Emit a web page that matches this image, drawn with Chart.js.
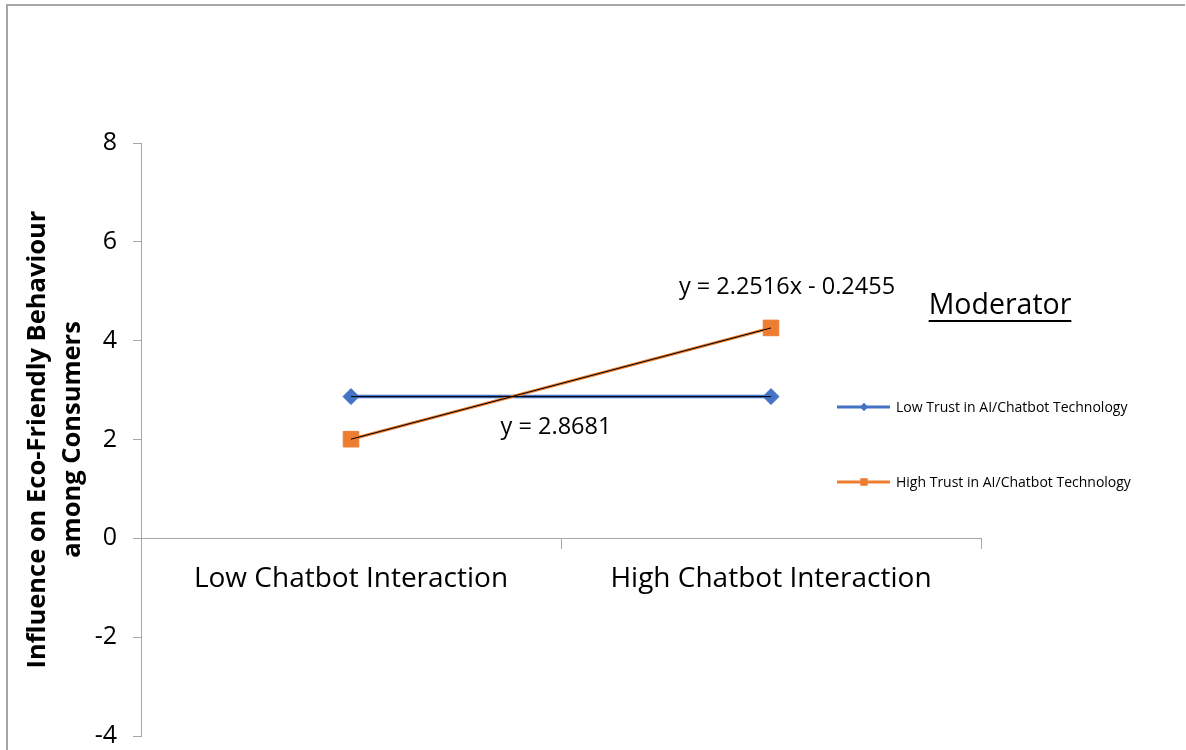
<!DOCTYPE html>
<html>
<head>
<meta charset="utf-8">
<script src="https://cdn.jsdelivr.net/npm/chart.js@4/dist/chart.umd.min.js"></script>
<style>
  html, body { margin: 0; padding: 0; background: #fff; }
  canvas { display: block; }
</style>
</head>
<body>
<canvas id="chart" width="1186" height="750"></canvas>
<script>
// values
const categories = ['Low Chatbot Interaction', 'High Chatbot Interaction'];
const lowTrust = [2.8681, 2.8681];
const highTrust = [2.0061, 4.2577];
const seriesNames = ['Low Trust in AI/Chatbot Technology', 'High Trust in AI/Chatbot Technology'];
const trendLabels = ['y = 2.8681', 'y = 2.2516x - 0.2455'];
const yTicks = [-4, -2, 0, 2, 4, 6, 8];

const FONT = '"Open Sans", Lato, sans-serif';
const AXIS_GREY = '#a6a6a6';

// frame, trendline equations and the "Moderator" legend
const extras = {
    id: 'extras',
    beforeDraw(chart) {
        const c = chart.ctx;
        c.save();
        c.strokeStyle = AXIS_GREY;
        c.lineWidth = 2;
        c.beginPath();
        c.moveTo(7, 750);
        c.lineTo(7, 5);
        c.lineTo(1185, 5);
        c.stroke();
        c.restore();
    },
    afterDraw(chart) {
        const c = chart.ctx;
        const x = chart.scales.x, y = chart.scales.y;
        c.save();
        c.fillStyle = '#000';
        c.textAlign = 'center';
        c.textBaseline = 'middle';
        c.font = '23.5px ' + FONT;
        // low trust equation, under the flat line between the categories
        c.fillText(trendLabels[0], (x.getPixelForValue(0) + x.getPixelForValue(1)) / 2 - 5, y.getPixelForValue(lowTrust[0]) + 31);
        // high trust equation, above the last point
        c.fillText(trendLabels[1], x.getPixelForValue(1) + 16, y.getPixelForValue(highTrust[1]) - 41);

        // legend
        c.font = '28.5px ' + FONT;
        c.fillText('Moderator', 1000, 306);
        const w = c.measureText('Moderator').width;
        c.fillRect(1000 - w / 2, 320, w, 2);

        const ds = chart.data.datasets;
        const rows = [{ d: ds[3], yy: 407 }, { d: ds[2], yy: 482 }];
        c.font = '14px ' + FONT;
        c.textAlign = 'left';
        rows.forEach(r => {
            c.strokeStyle = r.d.borderColor;
            c.lineWidth = 3;
            c.beginPath();
            c.moveTo(837, r.yy);
            c.lineTo(890, r.yy);
            c.stroke();
            c.fillStyle = r.d.borderColor;
            Chart.helpers.drawPoint(c, { pointStyle: r.d.pointStyle, radius: r.d.pointStyle === 'rect' ? 5 : 4, borderWidth: 0 }, 864, r.yy);
            c.fill();
            c.fillStyle = '#000';
            c.fillText(r.d.label, 896, r.yy + 1);
        });
        c.restore();
    }
};

new Chart(document.getElementById('chart'), {
    type: 'line',
    data: {
        labels: categories,
        datasets: [
            { label: 'trend low', data: lowTrust, borderColor: '#000', borderWidth: 1, pointRadius: 0, order: 0 },
            { label: 'trend high', data: highTrust, borderColor: '#000', borderWidth: 1, pointRadius: 0, order: 0 },
            {
                label: seriesNames[1], data: highTrust, borderColor: '#ED7D31', backgroundColor: '#ED7D31',
                borderWidth: 3, pointStyle: 'rect', pointRadius: 11, pointBorderWidth: 1, order: 1
            },
            {
                label: seriesNames[0], data: lowTrust, borderColor: '#4472C4', backgroundColor: '#4472C4',
                borderWidth: 3.5, pointStyle: 'rectRot', pointRadius: 8, pointBorderWidth: 1, order: 2
            }
        ]
    },
    options: {
        responsive: false,
        animation: false,
        layout: { padding: { left: 8, top: 143, right: 205, bottom: 14 } },
        scales: {
            x: {
                position: { y: 0 },
                offset: true,
                grid: { offset: true, drawOnChartArea: false, drawTicks: true, tickLength: 10, color: AXIS_GREY },
                border: { color: AXIS_GREY },
                ticks: { color: '#000', font: { family: FONT, size: 28 }, padding: 14, maxRotation: 0 }
            },
            y: {
                min: -4,
                max: 8,
                afterBuildTicks(axis) { axis.ticks = yTicks.map(v => ({ value: v })); },
                afterFit(axis) {
                    axis.width = 133;
                    axis.paddingTop = 0;
                    axis.paddingBottom = 0;
                },
                grid: { drawOnChartArea: false, tickLength: 8, color: AXIS_GREY },
                border: { color: AXIS_GREY },
                ticks: { color: '#000', font: { family: FONT, size: 25, lineHeight: 1 }, padding: 16 },
                title: {
                    display: true,
                    text: ['Influence on Eco-Friendly Behaviour', 'among Consumers'],
                    color: '#000',
                    font: { family: FONT, size: 25.5, weight: 'bold', lineHeight: 1.37 },
                    padding: { top: 12 }
                }
            }
        },
        plugins: { legend: { display: false }, tooltip: { enabled: false } }
    },
    plugins: [extras]
});
</script>
</body>
</html>
